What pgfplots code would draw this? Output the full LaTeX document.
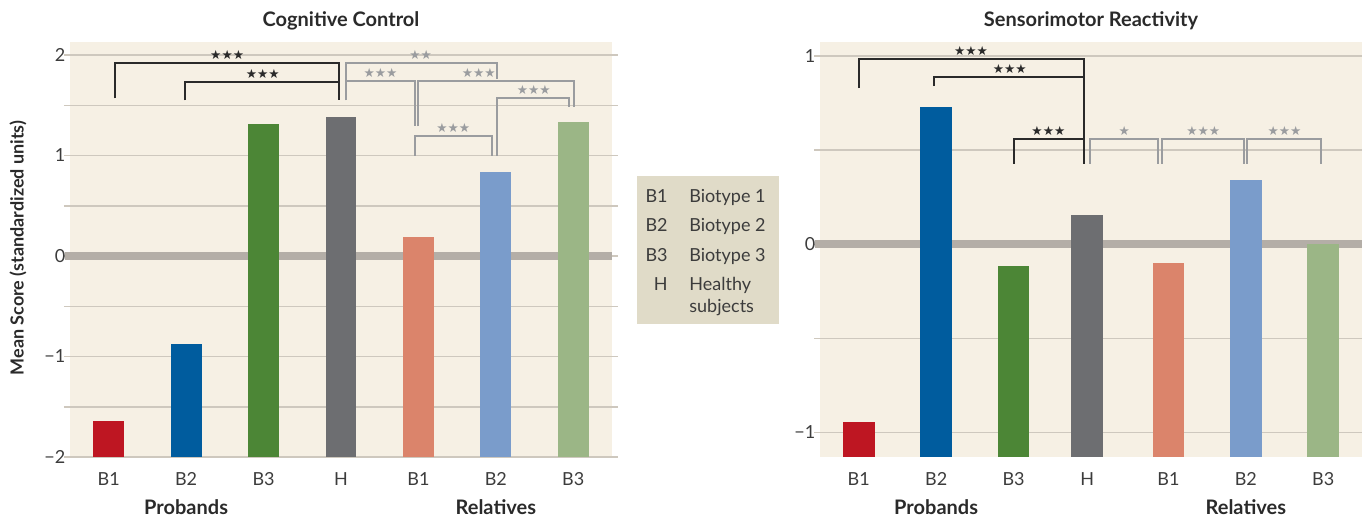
\documentclass[border=0pt]{standalone}
\usepackage{fontspec}
\setmainfont{Lato}
\newfontfamily\symfont{DejaVu Sans}
\usepackage{pgfplots}
\pgfplotsset{compat=1.18}
\definecolor{bgc}{HTML}{F6F0E4}
\definecolor{gridc}{HTML}{CEC8BE}
\definecolor{zeroc}{HTML}{B4AEA7}
\definecolor{legc}{HTML}{E0DBC8}
\definecolor{tickc}{HTML}{3C3C3C}
\definecolor{blk}{HTML}{2A2A2A}
\definecolor{gry}{HTML}{9A9C9F}
\definecolor{cBa}{HTML}{BE1622}
\definecolor{cBb}{HTML}{005C9E}
\definecolor{cBc}{HTML}{4C8636}
\definecolor{cH}{HTML}{6D6E71}
\definecolor{cRa}{HTML}{DB846B}
\definecolor{cRb}{HTML}{7A9CCB}
\definecolor{cRc}{HTML}{9BB686}
\pgfplotsset{common/.style={anchor=south west, scale only axis, width=271pt, height=207.5pt,
  axis background/.style={fill=bgc}, axis line style={draw=none}, clip=false,
  ymajorgrids, yminorgrids, grid style={gridc,line width=0.75pt},
  minor grid style={gridc,line width=0.75pt},
  tick align=outside, major tick length=3pt, minor tick length=3pt,
  tick style={gridc,line width=0.75pt}, xtick style={draw=none},
  tick label style={font=\fontsize{9}{10}\selectfont, text=tickc},
  xticklabel style={anchor=center, yshift=-8pt},
  yticklabel style={inner sep=0pt, xshift=0.8pt}}}
\newcommand\st[4]{\node[anchor=south, inner sep=0pt, font=\symfont\fontsize{6.3}{6.3}\selectfont, text=#3] at (axis cs:#1,#2) [yshift=1.6pt] {#4};}
\begin{document}
\begin{tikzpicture}
\path[use as bounding box] (0,0) rectangle (681pt,259pt);
% ---------------- Cognitive Control ----------------
\begin{axis}[common, at={(35pt,30.5pt)}, xmin=-0.5, xmax=6.5, ymin=-2, ymax=2.13,
  ytick={-2,-1,0,1,2}, yticklabels={−2,−1,0,1,2}, minor ytick={-1.5,-0.5,0.5,1.5},
  xtick={0,1,2,3,4,5,6}, xticklabels={B1,B2,B3,H,B1,B2,B3}]
\addplot[zeroc, line width=4pt, forget plot] coordinates {(-0.56,0) (6.5,0)};
% bars: rectangles from the axis bottom (-2) up to the mean score
\addplot[fill=cBa, draw=none, forget plot] coordinates {(-0.2,-2) (-0.2,-1.64) (0.2,-1.64) (0.2,-2)};
\addplot[fill=cBb, draw=none, forget plot] coordinates {(0.8,-2) (0.8,-0.875) (1.2,-0.875) (1.2,-2)};
\addplot[fill=cBc, draw=none, forget plot] coordinates {(1.8,-2) (1.8,1.31) (2.2,1.31) (2.2,-2)};
\addplot[fill=cH, draw=none, forget plot] coordinates {(2.8,-2) (2.8,1.38) (3.2,1.38) (3.2,-2)};
\addplot[fill=cRa, draw=none, forget plot] coordinates {(3.8,-2) (3.8,0.19) (4.2,0.19) (4.2,-2)};
\addplot[fill=cRb, draw=none, forget plot] coordinates {(4.8,-2) (4.8,0.835) (5.2,0.835) (5.2,-2)};
\addplot[fill=cRc, draw=none, forget plot] coordinates {(5.8,-2) (5.8,1.337) (6.2,1.337) (6.2,-2)};
% brackets
\addplot[blk, line width=1pt, forget plot] coordinates {(0.08,1.57) (0.08,1.917) (2.97,1.917) (2.97,1.55)};
\addplot[blk, line width=1pt, forget plot] coordinates {(0.99,1.55) (0.99,1.73) (2.97,1.73)};
\addplot[gry, line width=1pt, forget plot] coordinates {(3.06,1.55) (3.06,1.917) (5.02,1.917) (5.02,1.76)};
\addplot[gry, line width=1pt, forget plot] coordinates {(3.06,1.737) (3.95,1.737) (3.95,1.293)};
\addplot[gry, line width=1pt, forget plot] coordinates {(4.0,1.29) (4.0,1.737) (6.01,1.737) (6.01,1.483)};
\addplot[gry, line width=1pt, forget plot] coordinates {(5.02,1.0) (5.02,1.57) (5.95,1.57) (5.95,1.483)};
\addplot[gry, line width=1pt, forget plot] coordinates {(3.95,1.0) (3.95,1.193) (4.95,1.193) (4.95,1.0)};
\st{1.53}{1.917}{blk}{★★★}
\st{1.99}{1.73}{blk}{★★★}
\st{4.03}{1.917}{gry}{★★}
\st{3.51}{1.737}{gry}{★★★}
\st{4.78}{1.737}{gry}{★★★}
\st{5.49}{1.57}{gry}{★★★}
\st{4.45}{1.193}{gry}{★★★}
\node[anchor=base, font=\bfseries\fontsize{10}{12}\selectfont, text=blk] at (axis cs:3,2.13) [yshift=7.5pt] {Cognitive Control};
\node[anchor=base, font=\bfseries\fontsize{10}{12}\selectfont, text=blk] at (axis cs:1,-2) [yshift=-29pt] {Probands};
\node[anchor=base, font=\bfseries\fontsize{10}{12}\selectfont, text=blk] at (axis cs:5,-2) [yshift=-29pt] {Relatives};
\end{axis}
% ---------------- Sensorimotor Reactivity ----------------
\begin{axis}[common, at={(410pt,30.5pt)}, xmin=-0.5, xmax=6.5, ymin=-1.13, ymax=1.075,
  ytick={-1,0,1}, yticklabels={−1,0,1}, minor ytick={-0.5,0.5},
  xtick={0,1,2,2.95,4,5,6}, xticklabels={B1,B2,B3,H,B1,B2,B3}]
\addplot[zeroc, line width=4pt, forget plot] coordinates {(-0.56,0) (6.5,0)};
\addplot[fill=cBa, draw=none, forget plot] coordinates {(-0.205,-1.13) (-0.205,-0.945) (0.205,-0.945) (0.205,-1.13)};
\addplot[fill=cBb, draw=none, forget plot] coordinates {(0.795,-1.13) (0.795,0.732) (1.205,0.732) (1.205,-1.13)};
\addplot[fill=cBc, draw=none, forget plot] coordinates {(1.795,-1.13) (1.795,-0.113) (2.205,-0.113) (2.205,-1.13)};
\addplot[fill=cH, draw=none, forget plot] coordinates {(2.745,-1.13) (2.745,0.158) (3.155,0.158) (3.155,-1.13)};
\addplot[fill=cRa, draw=none, forget plot] coordinates {(3.795,-1.13) (3.795,-0.099) (4.205,-0.099) (4.205,-1.13)};
\addplot[fill=cRb, draw=none, forget plot] coordinates {(4.795,-1.13) (4.795,0.343) (5.205,0.343) (5.205,-1.13)};
\addplot[fill=cRc, draw=none, forget plot] coordinates {(5.795,-1.13) (5.795,0.003) (6.205,0.003) (6.205,-1.13)};
\addplot[blk, line width=1pt, forget plot] coordinates {(0.0,0.83) (0.0,0.986) (2.91,0.986) (2.91,0.428)};
\addplot[blk, line width=1pt, forget plot] coordinates {(0.97,0.84) (0.97,0.889) (2.91,0.889)};
\addplot[blk, line width=1pt, forget plot] coordinates {(2.01,0.428) (2.01,0.56) (2.91,0.56)};
\addplot[gry, line width=1pt, forget plot] coordinates {(2.99,0.428) (2.99,0.56) (3.87,0.56) (3.87,0.428)};
\addplot[gry, line width=1pt, forget plot] coordinates {(3.92,0.428) (3.92,0.56) (4.97,0.56) (4.97,0.428)};
\addplot[gry, line width=1pt, forget plot] coordinates {(5.02,0.428) (5.02,0.56) (5.97,0.56) (5.97,0.428)};
\st{1.45}{0.986}{blk}{★★★}
\st{1.95}{0.889}{blk}{★★★}
\st{2.45}{0.56}{blk}{★★★}
\st{3.43}{0.56}{gry}{★}
\st{4.45}{0.56}{gry}{★★★}
\st{5.5}{0.56}{gry}{★★★}
\node[anchor=base, font=\bfseries\fontsize{10}{12}\selectfont, text=blk] at (axis cs:3,1.075) [yshift=7.5pt] {Sensorimotor Reactivity};
\node[anchor=base, font=\bfseries\fontsize{10}{12}\selectfont, text=blk] at (axis cs:1,-1.13) [yshift=-29pt] {Probands};
\node[anchor=base, font=\bfseries\fontsize{10}{12}\selectfont, text=blk] at (axis cs:5,-1.13) [yshift=-29pt] {Relatives};
\end{axis}
% y label
\node[rotate=90, font=\bfseries\fontsize{9}{10}\selectfont, text=blk] at (9pt,135pt) {Mean Score (standardized units)};
% legend box
\fill[legc] (318.5pt,97pt) rectangle (389.5pt,171pt);
\begin{scope}[every node/.style={font=\fontsize{9}{10}\selectfont, text=tickc, inner sep=0pt}]
\node[anchor=base east] at (334pt,157.9pt) {B1};
\node[anchor=base west] at (344.5pt,157.9pt) {Biotype 1};
\node[anchor=base east] at (334pt,143.4pt) {B2};
\node[anchor=base west] at (344.5pt,143.4pt) {Biotype 2};
\node[anchor=base east] at (334pt,128.4pt) {B3};
\node[anchor=base west] at (344.5pt,128.4pt) {Biotype 3};
\node[anchor=base east] at (334pt,113.9pt) {H};
\node[anchor=base west] at (344.5pt,113.9pt) {Healthy};
\node[anchor=base west] at (344.5pt,102.9pt) {subjects};
\end{scope}
\end{tikzpicture}
\end{document}
